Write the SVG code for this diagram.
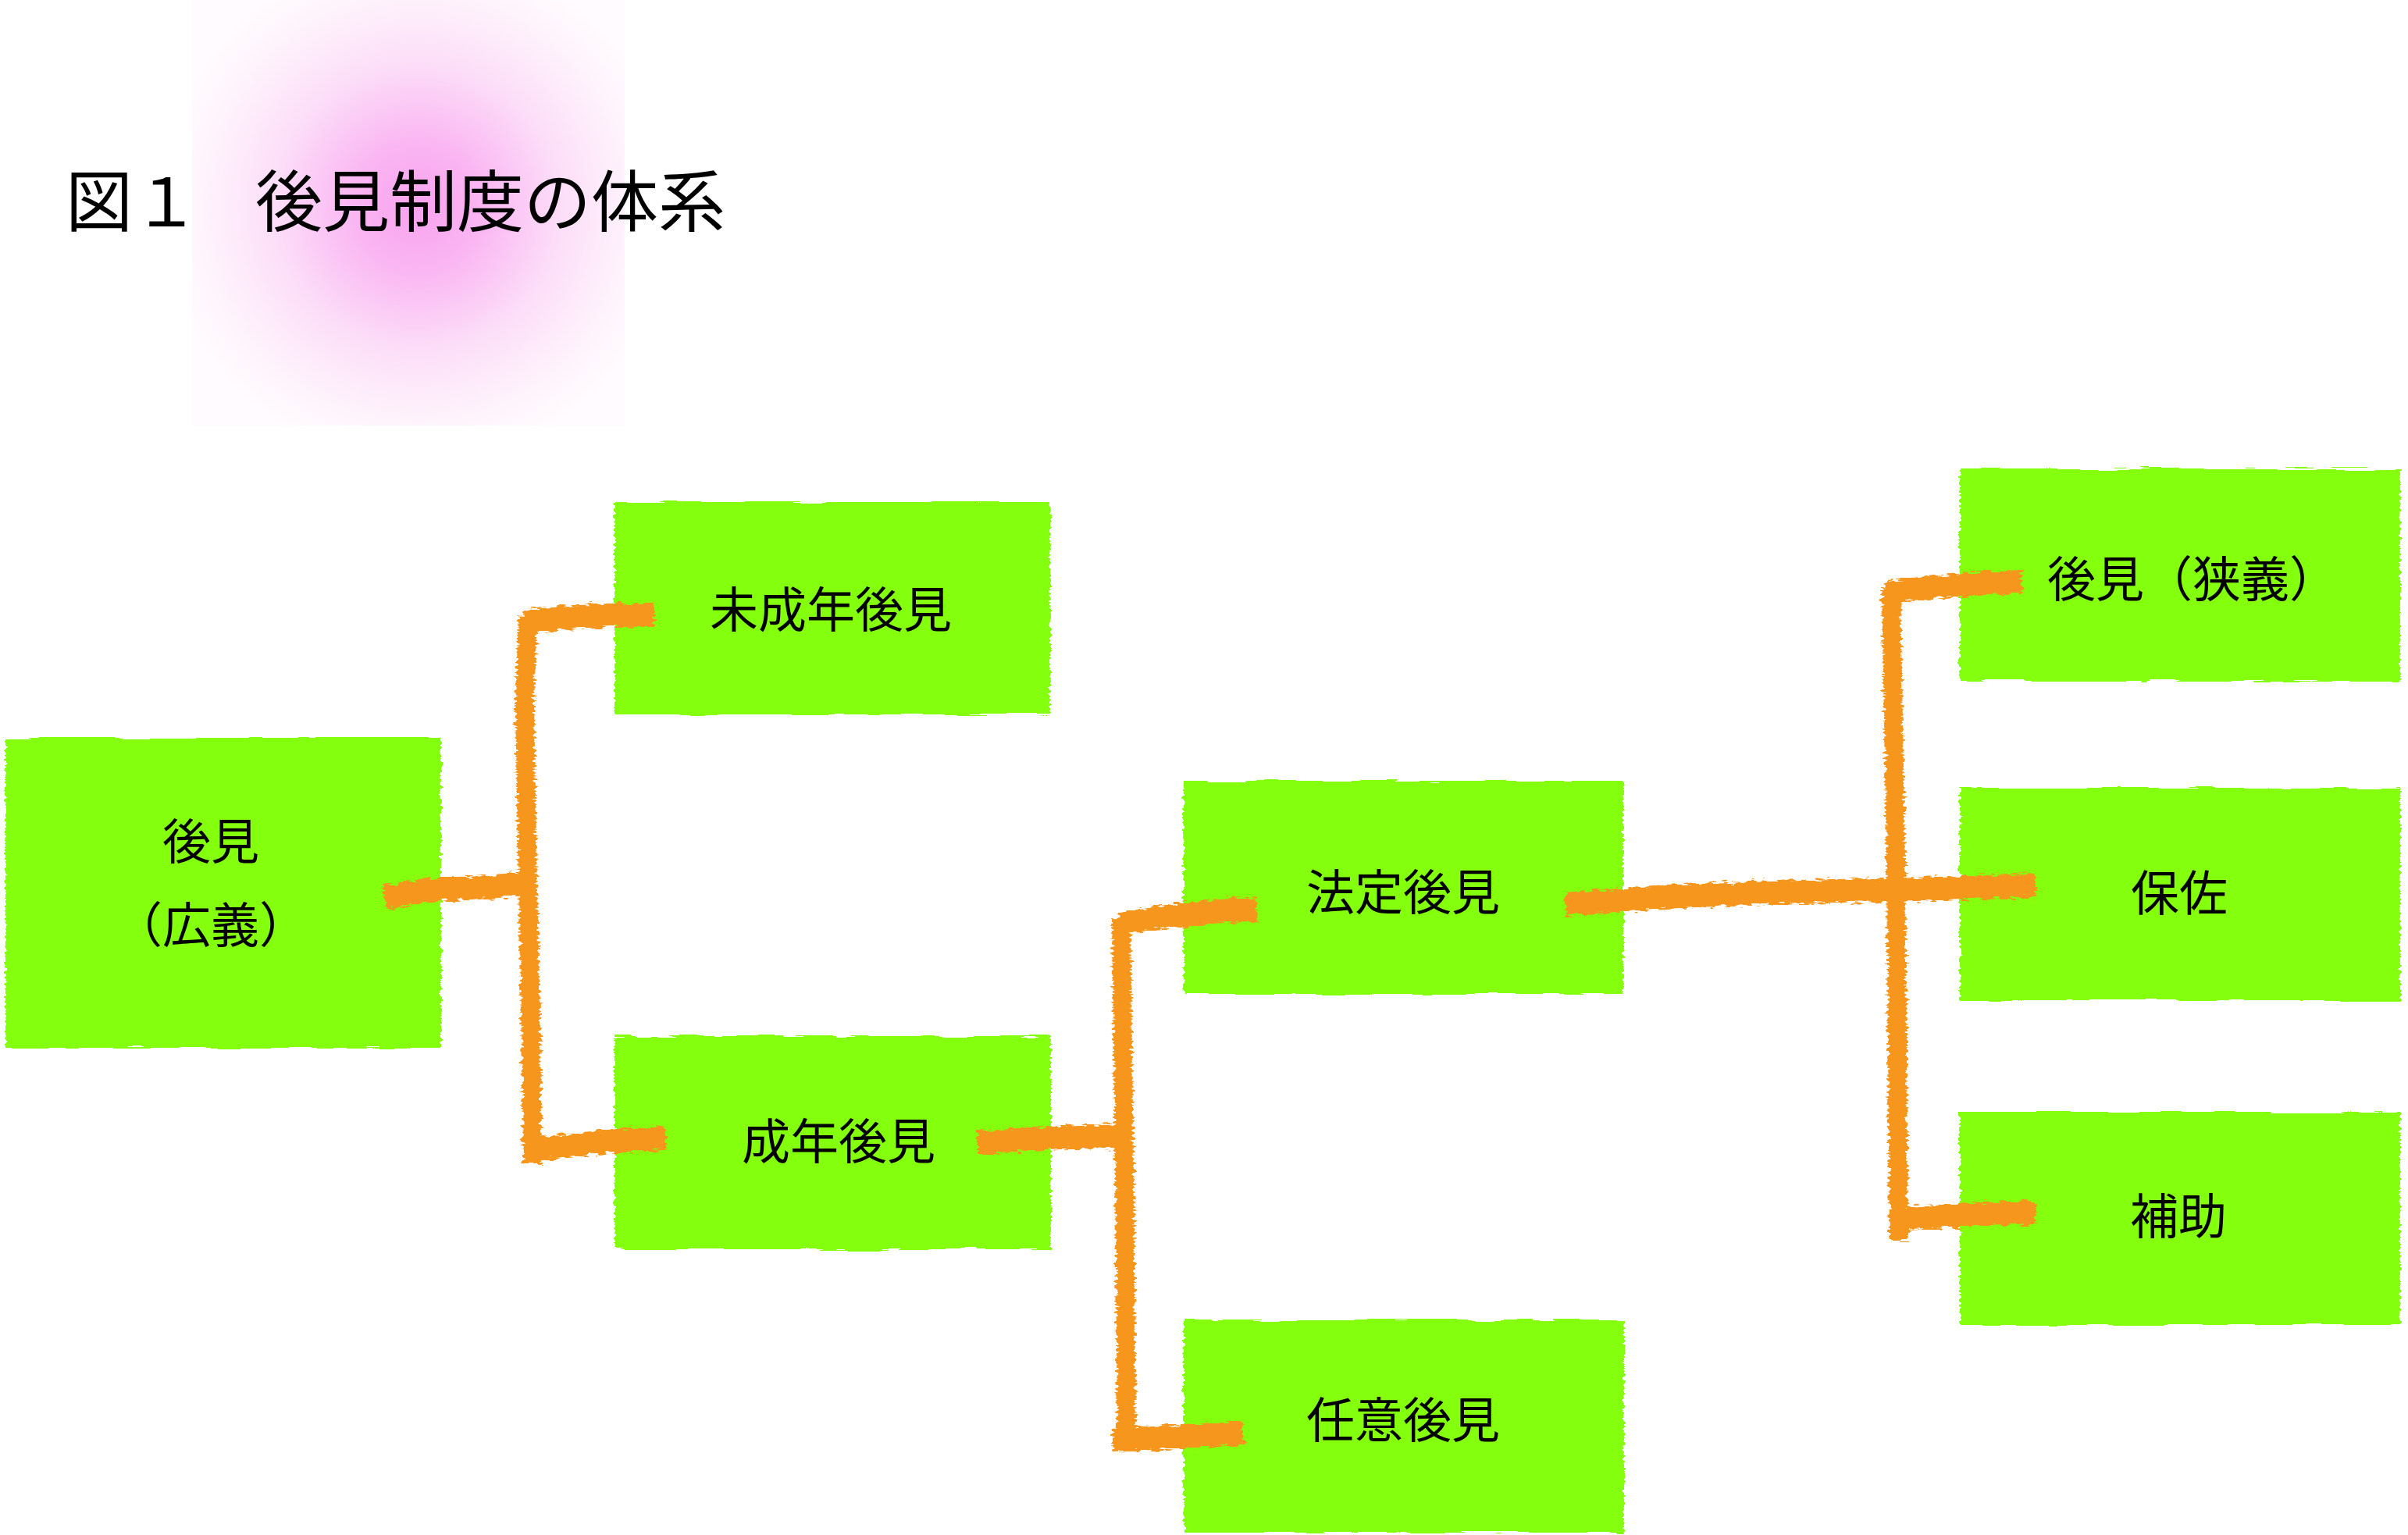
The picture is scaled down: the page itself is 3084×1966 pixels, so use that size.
<svg xmlns="http://www.w3.org/2000/svg" width="3084" height="1966" viewBox="0 0 3084 1966">
<defs>
<radialGradient id="glow" gradientUnits="userSpaceOnUse" cx="535" cy="265" r="330">
<stop offset="0" stop-color="#F8A2EE"/>
<stop offset="0.25" stop-color="#FAB6F2"/>
<stop offset="0.55" stop-color="#FCDDF8"/>
<stop offset="0.85" stop-color="#FEF5FC"/>
<stop offset="1" stop-color="#FFFBFE"/>
</radialGradient>
<filter id="roughBox" filterUnits="userSpaceOnUse" x="0" y="0" width="3084" height="1966">
<feTurbulence type="fractalNoise" baseFrequency="0.015 0.25" numOctaves="2" seed="4" result="n"/>
<feDisplacementMap in="SourceGraphic" in2="n" scale="9" xChannelSelector="R" yChannelSelector="G"/>
</filter>
<filter id="roughLine" filterUnits="userSpaceOnUse" x="0" y="0" width="3084" height="1966">
<feTurbulence type="fractalNoise" baseFrequency="0.08 0.3" numOctaves="2" seed="7" result="n"/>
<feDisplacementMap in="SourceGraphic" in2="n" scale="12" xChannelSelector="R" yChannelSelector="G"/>
</filter>
</defs>
<style>
.box{fill:#84FF11;filter:url(#roughBox)}
.lbl{font-family:"Noto Sans CJK JP","Noto Sans CJK SC",sans-serif;font-size:62px;fill:#000;text-anchor:middle}
.title{font-family:"Noto Sans CJK JP","Noto Sans CJK SC",sans-serif;font-size:86px;fill:#000}
.con{fill:none;stroke:#F7961B;stroke-width:24;stroke-linecap:butt;stroke-linejoin:round}
.conh{fill:none;stroke:#F7961B;stroke-width:30;stroke-linecap:butt;stroke-linejoin:round}
</style>
<rect x="0" y="0" width="3084" height="1966" fill="#FFFFFF"/>
<rect x="246" y="0" width="554" height="545" fill="url(#glow)"/>
<g id="title">
<text class="title" x="84" y="290">図１</text>
<text class="title" x="327" y="290">後見制度の体系</text>
</g>
<g id="n-kouken-kougi">
<rect class="box" x="7" y="945" width="558" height="397"/>
<text class="lbl" x="270" y="1101">後見</text>
<text class="lbl" x="270" y="1208">（広義）</text>
</g>
<g id="n-miseinen">
<rect class="box" x="787" y="643" width="558" height="272"/>
<text class="lbl" x="1064" y="804">未成年後見</text>
</g>
<g id="n-seinen">
<rect class="box" x="787" y="1327" width="559" height="273"/>
<text class="lbl" x="1074" y="1485">成年後見</text>
</g>
<g id="n-houtei">
<rect class="box" x="1516" y="1000" width="563" height="273"/>
<text class="lbl" x="1797" y="1166">法定後見</text>
</g>
<g id="n-nini">
<rect class="box" x="1516" y="1691" width="564" height="272"/>
<text class="lbl" x="1797" y="1842">任意後見</text>
</g>
<g id="n-kouken-kyougi">
<rect class="box" x="2510" y="600" width="564" height="272"/>
<text class="lbl" x="2808" y="765">後見（狭義）</text>
</g>
<g id="n-hosa">
<rect class="box" x="2510" y="1009" width="564" height="272"/>
<text class="lbl" x="2791" y="1167">保佐</text>
</g>
<g id="n-hojo">
<rect class="box" x="2510" y="1424" width="564" height="273"/>
<text class="lbl" x="2790" y="1581">補助</text>
</g>
<g id="connectors" filter="url(#roughLine)">
<path class="con" d="M676,790 L672,900 L676,1140 L680,1300 L682,1490"/>
<path class="conh" d="M672,797 Q750,786 838,788"/>
<path class="conh" d="M492,1150 Q560,1136 600,1138 Q640,1134 682,1132"/>
<path class="conh" d="M682,1473 Q760,1461 853,1458"/>
<path class="conh" d="M1252,1464 Q1340,1456 1436,1455"/>
<path class="con" d="M1436,1176 L1440,1500 L1443,1846"/>
<path class="conh" d="M1434,1183 Q1520,1168 1610,1164"/>
<path class="conh" d="M1425,1845 Q1510,1840 1593,1836"/>
<path class="conh" d="M2005,1158 Q2200,1142 2420,1140 L2607,1134"/>
<path class="con" d="M2422,752 L2428,1100 L2432,1588"/>
<path class="conh" d="M2416,759 Q2500,748 2589,745"/>
<path class="conh" d="M2428,1561 Q2520,1555 2607,1553"/>
</g>
</svg>
